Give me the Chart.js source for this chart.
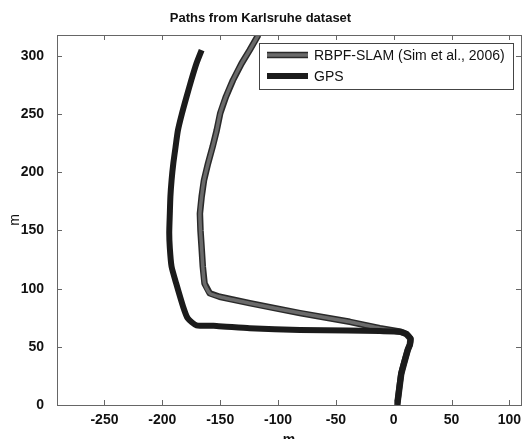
<!DOCTYPE html>
<html>
<head>
<meta charset="utf-8">
<script src="https://cdn.jsdelivr.net/npm/chart.js@4.4.1/dist/chart.umd.min.js"></script>
<style>
  html, body { margin: 0; padding: 0; background: #fff; }
  #wrap { width: 527px; height: 439px; }
</style>
</head>
<body>
<div id="wrap"><canvas id="chart"></canvas></div>
<script>
const titleText = 'Paths from Karlsruhe dataset';
const xLabel = 'm';
const yLabel = 'm';
const seriesNames = ['RBPF-SLAM (Sim et al., 2006)', 'GPS'];
const xTicks = [-250, -200, -150, -100, -50, 0, 50, 100];
const yTicks = [0, 50, 100, 150, 200, 250, 300];
const xRange = [-291, 110];
const yRange = [0, 318];

// RBPF-SLAM path (top -> bottom), metres
const slamX = [-117, -124.5, -131.5, -139, -145, -150, -153, -156.5, -160.5, -164, -166, -167.5, -167, -166, -165, -163.5, -159, -150.5, -124.5, -81, -38, -12, 6, 11, 14.5, 14, 12, 6.5, 3];
const slamY = [318, 305, 293.5, 279, 265, 250.5, 236, 222, 207.5, 193, 179, 164.5, 150, 135, 119, 104.5, 96, 93, 87.5, 79, 71.5, 66, 63, 61, 57, 52, 47, 27, 0];

// GPS path (top -> bottom), metres
const gpsX = [-166, -170.5, -175, -179, -183, -186.5, -188.5, -190.5, -192, -193, -193.5, -194, -193.5, -192, -188, -182, -178, -170.5, -153, -124.5, -81, -40, -12, 5, 11, 14.5, 14, 12, 6.5, 3];
const gpsY = [305, 293.5, 279, 265, 250.5, 236, 222, 207.5, 193, 179, 164.5, 148, 135, 119, 104.5, 84.5, 74.5, 68.5, 68, 66, 64.5, 64, 63.5, 63, 61, 57, 52, 47, 27, 0];

const toPoints = (xs, ys) => xs.map((x, i) => ({ x: x, y: ys[i] }));

const fontFamily = '"Liberation Sans", Arial, sans-serif';
const axisColor = '#666';

// dark edge under the grey SLAM line
const slamOutline = {
    id: 'slamOutline',
    beforeDatasetDraw(chart, args) {
        if (args.index !== 0) return;
        const { ctx, chartArea } = chart;
        const pts = args.meta.data;
        ctx.save();
        ctx.beginPath();
        ctx.rect(chartArea.left, chartArea.top, chartArea.right - chartArea.left, chartArea.bottom - chartArea.top);
        ctx.clip();
        ctx.beginPath();
        pts.forEach((p, i) => i === 0 ? ctx.moveTo(p.x, p.y) : ctx.lineTo(p.x, p.y));
        ctx.lineWidth = 6.5;
        ctx.lineJoin = 'round';
        ctx.strokeStyle = '#2a2a2a';
        ctx.stroke();
        ctx.restore();
    }
};

// matlab style box with inward ticks + legend box
const matlabBox = {
    id: 'matlabBox',
    afterDraw(chart) {
        const { ctx, chartArea, scales } = chart;
        const { left, right, top, bottom } = chartArea;
        const tl = 5;
        ctx.save();
        ctx.strokeStyle = axisColor;
        ctx.lineWidth = 1;
        ctx.strokeRect(Math.round(left) + 0.5, Math.round(top) + 0.5, Math.round(right - left), Math.round(bottom - top));
        ctx.beginPath();
        for (const v of xTicks) {
            const px = Math.round(scales.x.getPixelForValue(v)) + 0.5;
            ctx.moveTo(px, bottom); ctx.lineTo(px, bottom - tl);
            ctx.moveTo(px, top); ctx.lineTo(px, top + tl);
        }
        for (const v of yTicks) {
            const py = Math.round(scales.y.getPixelForValue(v)) + 0.5;
            ctx.moveTo(left, py); ctx.lineTo(left + tl, py);
            ctx.moveTo(right, py); ctx.lineTo(right - tl, py);
        }
        ctx.stroke();

        // legend
        const w = 254, h = 46;
        const x0 = Math.round(right) - 8 - w, y0 = Math.round(top) + 8;
        ctx.fillStyle = '#fff';
        ctx.fillRect(x0, y0, w, h);
        ctx.strokeStyle = '#444';
        ctx.strokeRect(x0 + 0.5, y0 + 0.5, w, h);
        chart.data.datasets.forEach((ds, i) => {
            const y = y0 + 12 + i * 21;
            ctx.lineCap = 'butt';
            if (i === 0) {
                ctx.strokeStyle = '#2a2a2a';
                ctx.lineWidth = 6.5;
                ctx.beginPath(); ctx.moveTo(x0 + 8, y); ctx.lineTo(x0 + 49, y); ctx.stroke();
            }
            ctx.strokeStyle = ds.borderColor;
            ctx.lineWidth = ds.borderWidth;
            ctx.beginPath(); ctx.moveTo(x0 + 8, y); ctx.lineTo(x0 + 49, y); ctx.stroke();
            ctx.fillStyle = '#111';
            ctx.font = '14px ' + fontFamily;
            ctx.textBaseline = 'middle';
            ctx.textAlign = 'left';
            ctx.fillText(ds.label, x0 + 55, y + 1);
        });
        ctx.restore();
    }
};

const chart = new Chart(document.getElementById('chart').getContext('2d'), {
    type: 'scatter',
    data: {
        datasets: [
            {
                label: seriesNames[0],
                data: toPoints(slamX, slamY),
                showLine: true,
                borderColor: '#6a6a6a',
                borderWidth: 3.5,
                pointRadius: 0,
                tension: 0.2,
                borderJoinStyle: 'round',
                clip: 0,
                order: 2
            },
            {
                label: seriesNames[1],
                data: toPoints(gpsX, gpsY),
                showLine: true,
                borderColor: '#1b1b1b',
                borderWidth: 6,
                pointRadius: 0,
                tension: 0.2,
                borderJoinStyle: 'round',
                clip: 0,
                order: 1
            }
        ]
    },
    options: {
        responsive: true,
        maintainAspectRatio: false,
        animation: false,
        layout: { padding: { left: 0, right: 6, top: 0, bottom: 0 } },
        plugins: {
            legend: { display: false },
            tooltip: { enabled: false },
            title: {
                display: true,
                text: titleText,
                color: '#111',
                font: { family: fontFamily, size: 13, weight: 'bold' },
                padding: { top: 11, bottom: 8.4 }
            }
        },
        scales: {
            x: {
                type: 'linear',
                min: xRange[0],
                max: xRange[1],
                grid: { display: false },
                border: { display: false },
                afterBuildTicks: (scale) => { scale.ticks = xTicks.map(v => ({ value: v })); },
                afterFit: (scale) => { scale.height = 34; },
                ticks: {
                    color: '#111',
                    padding: -1,
                    maxRotation: 0,
                    autoSkip: false,
                    font: { family: fontFamily, size: 14, weight: 'bold' }
                },
                title: {
                    display: true,
                    text: xLabel,
                    color: '#111',
                    font: { family: fontFamily, size: 14, weight: 'bold' },
                    padding: { top: 0, bottom: -10 }
                }
            },
            y: {
                type: 'linear',
                min: yRange[0],
                max: yRange[1],
                grid: { display: false },
                border: { display: false },
                afterBuildTicks: (scale) => { scale.ticks = yTicks.map(v => ({ value: v })); },
                afterFit: (scale) => { scale.width = 57; },
                ticks: {
                    color: '#111',
                    padding: 5,
                    autoSkip: false,
                    font: { family: fontFamily, size: 14, weight: 'bold' }
                },
                title: {
                    display: true,
                    text: yLabel,
                    color: '#111',
                    font: { family: fontFamily, size: 14 },
                    padding: { top: 7, bottom: 0 }
                }
            }
        }
    },
    plugins: [slamOutline, matlabBox]
});
</script>
</body>
</html>
